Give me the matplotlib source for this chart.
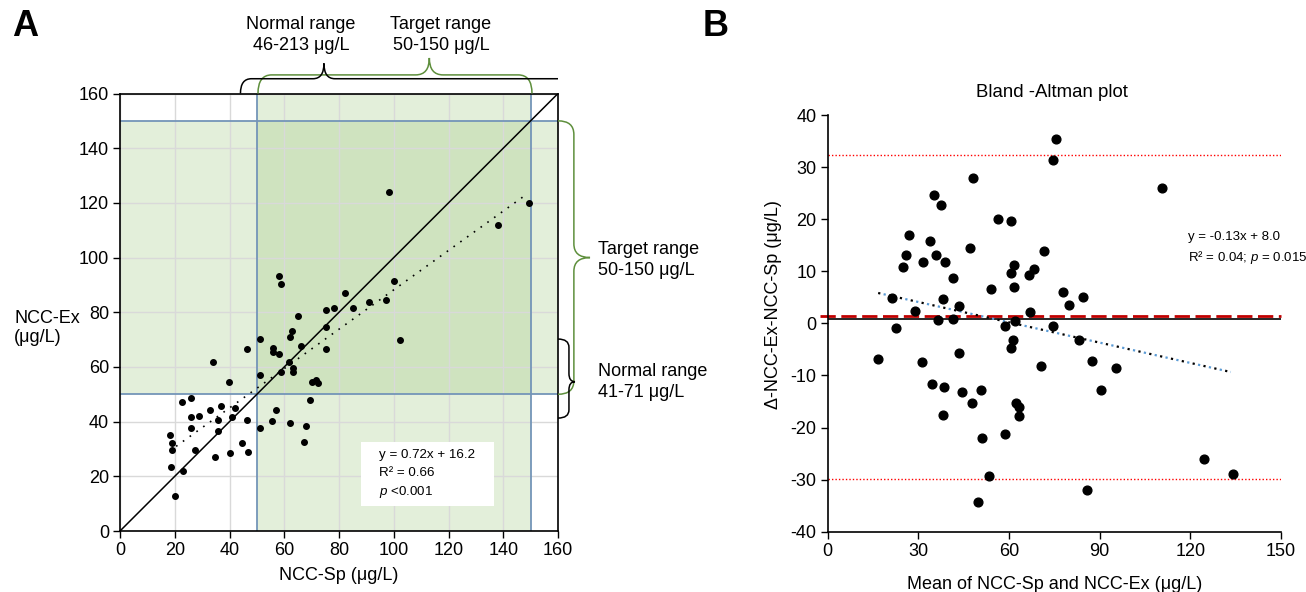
import numpy as np
import matplotlib
matplotlib.use('Agg')
import matplotlib.pyplot as plt
from matplotlib.path import Path
from matplotlib.patches import PathPatch, Rectangle

plt.rcParams['font.family'] = ['Liberation Sans', 'DejaVu Sans']
plt.rcParams['mathtext.fontset'] = 'custom'
plt.rcParams['mathtext.rm'] = 'Liberation Sans'
plt.rcParams['mathtext.it'] = 'Liberation Sans:italic'
plt.rcParams['axes.unicode_minus'] = False

# panel A: NCC-Sp vs NCC-Ex (ug/L)
sp_a = [98.1, 149.4, 138.2, 58.0, 58.9, 82.2, 100.1, 78.3, 75.1, 85.1, 91.1, 97.1,
        65.0, 62.9, 62.0, 51.0, 66.0, 75.1, 75.1, 102.2, 46.5, 55.9, 55.9, 58.1,
        34.0, 61.7, 63.1, 63.1, 58.9, 51.0, 39.9, 70.0, 71.6, 72.4, 69.5, 22.8,
        25.8, 32.9, 36.9, 41.9, 25.8, 28.9, 35.9, 40.9, 46.5, 57.0, 55.5, 51.0,
        62.0, 68.1, 25.8, 35.9, 18.4, 19.0, 19.1, 27.4, 44.7, 67.2, 34.8, 40.3,
        46.9, 18.6, 23.1, 20.0]
ex_a = [123.9, 119.9, 111.9, 93.3, 90.4, 87.0, 91.4, 81.7, 80.9, 81.7, 83.7, 84.3,
        78.7, 73.3, 71.0, 70.4, 67.8, 74.5, 66.7, 69.9, 66.5, 67.1, 65.5, 64.8,
        61.8, 61.9, 59.5, 58.2, 58.3, 57.2, 54.4, 54.6, 55.1, 54.3, 48.0, 47.3,
        48.7, 44.4, 45.6, 45.1, 41.6, 42.0, 40.5, 41.6, 40.5, 44.2, 40.2, 37.6,
        39.6, 38.4, 37.6, 36.6, 35.2, 32.1, 29.8, 29.8, 32.2, 32.6, 27.2, 28.4,
        29.0, 23.4, 22.1, 12.8]
fit_a = (0.72, 16.2)
fit_a_range = (20.5, 148.6)
target = (50, 150)

# panel B: Bland-Altman
mean_b = [75.5, 74.6, 48.0, 110.7, 35.2, 37.4, 56.4, 60.8, 27.0, 33.9, 47.1, 25.8,
          35.7, 71.7, 24.8, 31.7, 38.9, 61.5, 60.7, 68.2, 66.5, 41.3, 61.5, 54.2,
          77.8, 84.4, 21.4, 38.3, 79.9, 43.6, 28.9, 67.0, 36.5, 41.4, 61.9, 58.7,
          74.6, 22.7, 61.2, 83.2, 60.6, 43.5, 16.5, 31.1, 87.3, 70.7, 95.5, 34.6,
          38.6, 50.6, 44.3, 90.5, 47.9, 62.2, 63.3, 63.2, 38.0, 58.8, 50.9, 124.6,
          134.1, 53.3, 85.8, 49.9]
diff_b = [35.4, 31.4, 28.0, 26.0, 24.6, 22.8, 20.1, 19.6, 16.9, 15.9, 14.5, 13.2,
          13.2, 13.9, 10.9, 11.7, 11.7, 11.2, 9.7, 10.5, 9.2, 8.8, 7.0, 6.5,
          6.0, 5.1, 4.9, 4.7, 3.6, 3.4, 2.4, 2.2, 0.7, 0.9, 0.4, -0.5,
          -0.5, -0.9, -3.2, -3.2, -4.7, -5.7, -6.9, -7.4, -7.2, -8.1, -8.5, -11.6,
          -12.3, -12.7, -13.2, -12.7, -15.2, -15.2, -16.0, -17.8, -17.6, -21.3, -22.0, -26.0,
          -29.0, -29.4, -31.9, -34.3]
bias = 1.5
zero_line = 0.8
loa = (32.4, -29.9)
fit_b = (-0.13, 8.0)
fit_b_range = (16.7, 133.4)


def brace(ax, u0, u1, ut, v0, v1, vt, r, color, vertical=False, open_end=False):
    # curly brace drawn from u0 to u1, base at v0, bar at v1, tip at (ut, vt)
    s = 1 if u1 > u0 else -1
    r = r * s
    verts = [(u0, v0), (u0, v1), (u0 + r, v1), (ut - r, v1),
             (ut, v1), (ut, vt), (ut, v1), (ut + r, v1)]
    codes = [Path.MOVETO, Path.CURVE3, Path.CURVE3, Path.LINETO,
             Path.CURVE3, Path.CURVE3, Path.CURVE3, Path.CURVE3]
    if open_end:
        verts += [(u1, v1)]
        codes += [Path.LINETO]
    else:
        verts += [(u1 - r, v1), (u1, v1), (u1, v0)]
        codes += [Path.LINETO, Path.CURVE3, Path.CURVE3]
    if vertical:
        verts = [(v, u) for u, v in verts]
    p = PathPatch(Path(verts, codes), fill=False, edgecolor=color, lw=1.1,
                  transform=ax.transData, clip_on=False, zorder=5)
    ax.add_patch(p)


W, H = 1306, 592
fig = plt.figure(figsize=(W / 100, H / 100), dpi=100)

def frac(x0, y0, x1, y1):
    return [x0 / W, 1 - y1 / H, (x1 - x0) / W, (y1 - y0) / H]

# ---------------- panel A ----------------
ax = fig.add_axes(frac(120, 93.5, 558, 531))
light = '#e3efda'
dark = '#cfe3bf'
edge = '#7495b8'
ax.add_patch(Rectangle((0, target[0]), 160, target[1] - target[0], fc=light, ec='none', zorder=0.3))
ax.add_patch(Rectangle((target[0], 0), target[1] - target[0], 160, fc=light, ec='none', zorder=0.3))
ax.add_patch(Rectangle((target[0], target[0]), target[1] - target[0], target[1] - target[0],
                       fc=dark, ec='none', zorder=0.4))
for v in target:
    ax.plot([0, 160], [v, v], color=edge, lw=1.3, zorder=1.8)
    ax.plot([v, v], [0, 160], color=edge, lw=1.3, zorder=1.8)

ax.grid(True, color='#d9d9d9', lw=1)
ax.plot([0, 160], [0, 160], color='black', lw=1.1, zorder=2)
xf = np.array(fit_a_range)
ax.plot(xf, fit_a[0] * xf + fit_a[1], color='black', lw=1.2, dashes=(1, 4), zorder=2)
ax.plot(sp_a, ex_a, 'o', color='black', ms=4, mec='black', zorder=4)

ax.add_patch(Rectangle((88, 9.3), 48.5, 23.2, fc='white', ec='none', zorder=3))
ax.text(94.6, 27.8, 'y = 0.72x + 16.2', fontsize=9.6, va='center', zorder=4)
ax.text(94.6, 21.3, 'R² = 0.66', fontsize=9.6, va='center', zorder=4)
ax.text(94.6, 14.4, '$p$ <0.001', fontsize=9.6, va='center', zorder=4)

ax.set_xlim(0, 160)
ax.set_ylim(0, 160)
ax.set_xticks(range(0, 161, 20))
ax.set_yticks(range(0, 161, 20))
ax.tick_params(labelsize=13, length=5, width=1, pad=3, direction='out')
for sp in ax.spines.values():
    sp.set_color('black')
    sp.set_linewidth(1.2)
ax.set_xlabel('NCC-Sp (μg/L)', fontsize=13, labelpad=6)
fig.text(14 / W, 1 - 328 / H, 'NCC-Ex\n(μg/L)', fontsize=13, ha='left', va='center', linespacing=1.1)

green = '#5e8f3c'
brace(ax, 50.4, 150.5, 113, 160, 166.8, 173, 5, green)
brace(ax, 44, 160, 74.5, 160, 165.4, 171, 4, 'black', open_end=True)
brace(ax, 150, 50, 100, 160, 165.8, 171.7, 5, green, vertical=True)
brace(ax, 70.2, 41.3, 54.6, 160, 164, 166.2, 3, 'black', vertical=True)

fig.text(301 / W, 1 - 35 / H, 'Normal range\n46-213 μg/L', fontsize=13, ha='center', va='center', linespacing=1.25)
fig.text(441 / W, 1 - 35 / H, 'Target range\n50-150 μg/L', fontsize=13, ha='center', va='center', linespacing=1.25)
fig.text(598 / W, 1 - 260 / H, 'Target range\n50-150 μg/L', fontsize=13, ha='left', va='center', linespacing=1.25)
fig.text(598 / W, 1 - 382 / H, 'Normal range\n41-71 μg/L', fontsize=13, ha='left', va='center', linespacing=1.25)

fig.text(12 / W, 1 - 27 / H, 'A', fontsize=26, fontweight='bold', ha='left', va='center')
fig.text(703 / W, 1 - 27 / H, 'B', fontsize=26, fontweight='bold', ha='left', va='center')

# ---------------- panel B ----------------
bx = fig.add_axes(frac(827.7, 115, 1281, 531.7))
bx.plot([-2.5, 150], [bias, bias], color='#c00000', lw=2, dashes=(5.5, 2), clip_on=False, zorder=2)
bx.axhline(zero_line, color='black', lw=1.2, zorder=1.5)
for v in loa:
    bx.axhline(v, color='#ff0000', lw=1, ls=(0, (1, 1.5)), zorder=1.5)
xb = np.array(fit_b_range)
bx.plot(xb, fit_b[0] * xb + fit_b[1], color='#5b9bd5', lw=1.6, ls=(2.5, (1, 4)), zorder=2)
bx.plot(xb, fit_b[0] * xb + fit_b[1], color='black', lw=1.6, ls=(0, (1, 4)), zorder=2)
bx.plot(mean_b, diff_b, 'o', color='black', ms=6.3, zorder=4)

bx.text(119.1, 16.6, 'y = -0.13x + 8.0', fontsize=9.5, va='center')
bx.text(119.1, 12.6, 'R² = 0.04; $p$ = 0.015', fontsize=9.5, va='center')

bx.set_xlim(0, 150)
bx.set_ylim(-40, 40)
bx.set_xticks(range(0, 151, 30))
bx.set_yticks(range(-40, 41, 10))
bx.spines['top'].set_visible(False)
bx.spines['right'].set_visible(False)
for s in ('left', 'bottom'):
    bx.spines[s].set_color('black')
    bx.spines[s].set_linewidth(1.2)
bx.tick_params(labelsize=13, length=5, width=1, pad=3, direction='out')
bx.set_xlabel('Mean of NCC-Sp and NCC-Ex (μg/L)', fontsize=13, labelpad=12)
fig.text(773 / W, 1 - 305 / H, 'Δ-NCC-Ex-NCC-Sp (μg/L)', fontsize=13, rotation=90, ha='center', va='center')
fig.text(1052 / W, 1 - 97 / H, 'Bland -Altman plot', fontsize=13.4, ha='center', va='baseline')

fig.savefig('out.png', dpi=100)
